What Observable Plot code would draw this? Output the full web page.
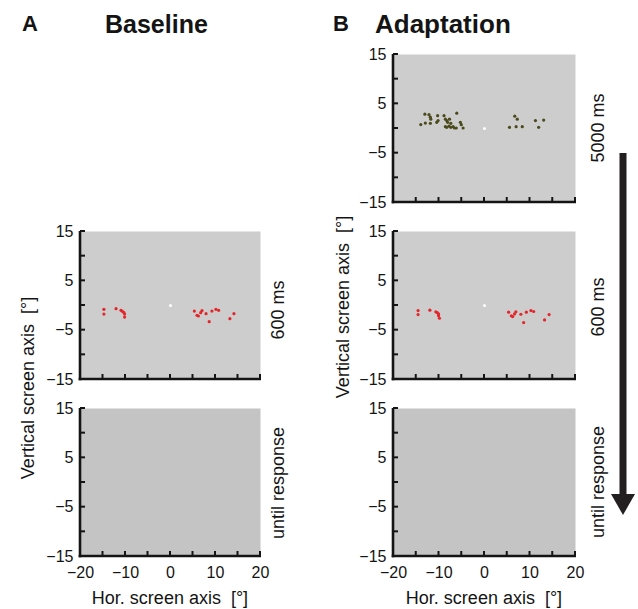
<!DOCTYPE html>
<html><head><meta charset="utf-8">
<script src="https://cdn.jsdelivr.net/npm/d3@7"></script>
<script src="https://cdn.jsdelivr.net/npm/@observablehq/plot@0.6"></script>
<style>
body{margin:0;background:#fff;}
#wrap{position:relative;width:638px;height:609px;overflow:hidden;font-family:"Liberation Sans",Arial,Helvetica,sans-serif;}
#wrap > svg{position:absolute;}
</style></head><body><div id="wrap"></div>
<script>
const xDomain = [-20, 20];
const yDomain = [-15, 15];
const xTickMarks = [-20, -15, -10, -5, 0, 5, 10, 15, 20];
const xTickLabels = [-20, -10, 0, 10, 20];
const yTickMarks = [-15, -10, -5, 0, 5, 10, 15];
const yTickLabels = [-15, -5, 5, 15];
const fixationX = [0];
const fixationY = [0];
const adapt5000X = [-14.0,-13.1,-13.0,-12.2,-11.9,-11.8,-11.9,-10.3,-10.5,-10.2,-8.9,-8.6,-8.3,-8.1,-7.7,-6.1,-7.4,-8.6,-8.3,-7.8,-7.4,-6.9,-6.6,-6.2,-5.3,-5.1,-4.7,6.65,7.2,5.5,6.95,8.3,11.2,13.0,11.9];
const adapt5000Y = [0.8,2.9,1.1,2.8,2.3,1.9,1.05,2.6,1.25,1.6,2.6,1.9,1.6,1.25,1.9,3.1,1.05,0.37,0.24,0.5,0.24,0.37,0.1,0.1,1.25,0.78,0.1,2.5,1.9,0.24,0.37,0.37,1.6,1.7,0.24];
const base600X = [-14.8,-14.8,-12.1,-11.0,-10.7,-10.4,-10.2,-10.2,5.3,5.9,6.2,6.7,7.0,7.9,8.6,9.2,10.1,10.7,13.2,14.1];
const base600Y = [-0.78,-1.73,-0.64,-0.98,-1.18,-1.39,-1.73,-2.34,-1.12,-2.0,-2.13,-1.46,-1.05,-1.66,-3.28,-1.12,-0.78,-0.98,-2.67,-1.66];
const adapt600X = [-14.6,-14.6,-12.0,-10.7,-10.4,-10.1,-10.1,-9.9,5.3,5.9,6.2,6.6,6.9,8.0,8.6,9.2,10.2,10.8,13.2,14.2];
const adapt600Y = [-1.02,-1.83,-0.95,-1.29,-1.43,-1.70,-2.10,-2.58,-1.36,-2.10,-2.24,-1.70,-1.29,-1.77,-3.46,-1.36,-1.02,-1.22,-2.92,-1.83];

const zip = (xs, ys) => xs.map((x, i) => ({x, y: ys[i]}));
const wrap = document.getElementById("wrap");
const FONT = "Liberation Sans, Arial, Helvetica, sans-serif";
const ML = 50, MR = 12, MT = 10, MB = 32, FH = 148;
const INK = "#141414";
const panels = [];

function panel({left, top, fw, pts, color, showX, fill}) {
  const svg = Plot.plot({
    width: ML + fw + MR, height: MT + FH + MB,
    marginLeft: ML, marginRight: MR, marginTop: MT, marginBottom: MB,
    style: {fontFamily: FONT, fontSize: "16px", background: "transparent", overflow: "visible", color: INK},
    x: {domain: xDomain}, y: {domain: yDomain},
    marks: [
      Plot.frame({fill, stroke: "none"}),
      pts ? Plot.dot(pts, {x: "x", y: "y", r: 1.6, fill: color}) : null,
      pts ? Plot.dot(zip(fixationX, fixationY), {x: "x", y: "y", r: 1.5, fill: "white"}) : null,
      Plot.axisY({ticks: yTickLabels, tickSize: 0, tickPadding: 7, fontSize: 16, label: null}),
      showX ? Plot.axisX({ticks: xTickLabels, tickSize: 0, tickPadding: 10, fontSize: 16, label: null})
            : Plot.axisX({ticks: [], tickSize: 0, label: null})
    ].filter(Boolean)
  });
  const ox = left - ML, oy = top - MT;
  svg.style.left = ox + "px";
  svg.style.top = oy + "px";
  wrap.appendChild(svg);
  panels.push({svg, ox, oy});
}

const grayTop = "#cdcdcd", grayBottom = "#c4c4c4";
panel({left: 80, top: 231, fw: 180, pts: zip(base600X, base600Y), color: "#e4262b", fill: grayTop});
panel({left: 80, top: 408, fw: 180, pts: null, showX: true, fill: grayBottom});
panel({left: 393, top: 54, fw: 182, pts: zip(adapt5000X, adapt5000Y), color: "#4a4a1c", fill: grayTop});
panel({left: 393, top: 231, fw: 182, pts: zip(adapt600X, adapt600Y), color: "#e4262b", fill: grayTop});
panel({left: 393, top: 408, fw: 182, pts: null, showX: true, fill: grayBottom});

// ---- overlay: axis lines & ticks positioned through each panel's Plot scales, texts, arrow ----
const ov = d3.create("svg").attr("width", 638).attr("height", 609)
  .style("left", "0px").style("top", "0px").style("font-family", FONT).style("pointer-events", "none");

for (const {svg, ox, oy} of panels) {
  const sx = svg.scale("x"), sy = svg.scale("y");
  const X = v => ox + sx.apply(v), Y = v => oy + sy.apply(v);
  const g = ov.append("g").attr("stroke", INK).attr("fill", "none");
  const xl = X(xDomain[0]), xr = X(xDomain[1]), yb = Y(yDomain[0]), yt = Y(yDomain[1]);
  // inward ticks
  for (const t of yTickMarks)
    g.append("line").attr("x1", xl).attr("x2", xl + 5).attr("y1", Y(t)).attr("y2", Y(t)).attr("stroke-width", 2);
  for (const t of xTickMarks)
    g.append("line").attr("x1", X(t)).attr("x2", X(t)).attr("y1", yb).attr("y2", yb - 5).attr("stroke-width", 2);
  // axis lines
  g.append("line").attr("x1", xl).attr("x2", xl).attr("y1", yt).attr("y2", yb + 1.3).attr("stroke-width", 2.6);
  g.append("line").attr("x1", xl - 1.3).attr("x2", xr + 1).attr("y1", yb).attr("y2", yb).attr("stroke-width", 2.6);
}

function txt(x, y, s, size, weight, rotate) {
  const t = ov.append("text").attr("x", x).attr("y", y).text(s)
    .attr("font-size", size).attr("font-weight", weight || "normal").attr("fill", INK)
    .style("white-space", "pre");
  if (rotate) {
    t.attr("text-anchor", "middle").attr("dominant-baseline", "central")
     .attr("transform", `rotate(-90 ${x} ${y})`);
  }
  return t;
}
txt(22, 31, "A", 22, "bold");
txt(105, 33, "Baseline", 25, "bold");
txt(333, 31, "B", 22, "bold");
txt(375, 33, "Adaptation", 26, "bold");
txt(170, 604, "Hor. screen axis  [°]", 18).attr("text-anchor", "middle");
txt(484, 604, "Hor. screen axis  [°]", 18).attr("text-anchor", "middle");
txt(28, 388, "Vertical screen axis  [°]", 18, "normal", true);
txt(343, 307, "Vertical screen axis  [°]", 18, "normal", true);
txt(278, 310, "600 ms", 18, "normal", true);
txt(278, 483, "until response", 18, "normal", true);
txt(598, 128, "5000 ms", 18, "normal", true);
txt(598, 307, "600 ms", 18, "normal", true);
txt(598, 482, "until response", 18, "normal", true);
ov.append("line").attr("x1", 623).attr("x2", 623).attr("y1", 153).attr("y2", 496)
  .attr("stroke", "#231f20").attr("stroke-width", 7);
ov.append("path").attr("d", "M611,494L635,494L623,515Z").attr("fill", "#231f20");
wrap.appendChild(ov.node());
</script>
</body></html>
